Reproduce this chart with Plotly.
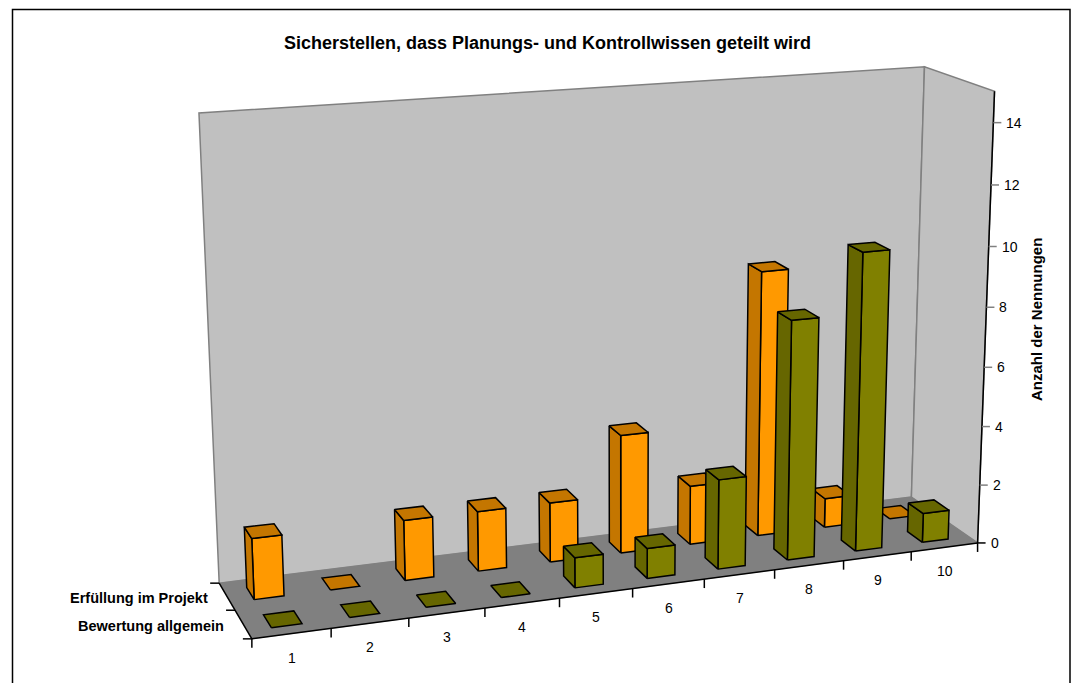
import numpy as np
import plotly.graph_objects as go

# Chart content
TITLE = "Sicherstellen, dass Planungs- und Kontrollwissen geteilt wird"
Y_TITLE = "Anzahl der Nennungen"
categories = ["1", "2", "3", "4", "5", "6", "7", "8", "9", "10"]
series_names = ["Bewertung allgemein", "Erfüllung im Projekt"]
bewertung = [0, 0, 0, 0, 1, 1, 3, 8, 10, 1]
erfuellung = [2, 0, 2, 2, 2, 4, 2, 9, 1, 0]
value_ticks = [0, 2, 4, 6, 8, 10, 12, 14]
VALUE_MAX = 15

# Colours: front face, side and top face
ORANGE = ("#FF9900", "#C47600")
OLIVE = ("#808000", "#666600")
WALL = "#C0C0C0"
FLOOR = "#808080"
EDGE = "#808080"
INK = "#000000"
FONT = "Liberation Sans, Arial, sans-serif"

N = len(categories)
ROWS = len(series_names)
BAR_W = 0.39
BAR_D = 0.45

# Perspective camera: box corners (category, row, value) and where they land on the page
box_corners = [
    ((0, 0, 0), (252, 639)),
    ((N, 0, 0), (977, 543)),
    ((0, ROWS, 0), (219, 583)),
    ((N, ROWS, 0), (912, 497)),
    ((0, ROWS, VALUE_MAX), (199, 113)),
    ((N, ROWS, VALUE_MAX), (924, 67)),
    ((N, 0, VALUE_MAX), (995, 91)),
]


def solve_camera(pairs):
    rows, rhs = [], []
    for (u, v, w), (x, y) in pairs:
        rows.append([u, v, w, 1, 0, 0, 0, 0, -x * u, -x * v, -x * w])
        rows.append([0, 0, 0, 0, u, v, w, 1, -y * u, -y * v, -y * w])
        rhs += [x, y]
    sol = np.linalg.lstsq(np.array(rows, float), np.array(rhs, float), rcond=None)[0]
    return np.append(sol, 1.0).reshape(3, 4)


CAM = solve_camera(box_corners)


def project(u, v, w):
    px, py, pw = CAM @ np.array([u, v, w, 1.0])
    return px / pw, py / pw


fig = go.Figure()


def poly(points, fill, line=INK, width=1.5):
    pts = [project(*p) for p in points]
    pts.append(pts[0])
    fig.add_trace(go.Scatter(
        x=[p[0] for p in pts], y=[p[1] for p in pts], mode="lines",
        fill="toself", fillcolor=fill, line=dict(color=line, width=width),
        hoverinfo="skip", showlegend=False))


def segment(a, b, color=INK, width=1.5):
    fig.add_trace(go.Scatter(
        x=[a[0], b[0]], y=[a[1], b[1]], mode="lines",
        line=dict(color=color, width=width), hoverinfo="skip", showlegend=False))


def shifted(p, dx=0, dy=0):
    return (p[0] + dx, p[1] + dy)


def label(p, text, size=14, bold=False, anchor="center", angle=0):
    fig.add_annotation(
        x=p[0], y=p[1], text=f"<b>{text}</b>" if bold else text, showarrow=False,
        xanchor=anchor, yanchor="middle", textangle=angle,
        font=dict(family=FONT, size=size, color=INK))


# Walls and floor
poly([(0, ROWS, 0), (N, ROWS, 0), (N, ROWS, VALUE_MAX), (0, ROWS, VALUE_MAX)], WALL, EDGE)
poly([(N, ROWS, 0), (N, 0, 0), (N, 0, VALUE_MAX), (N, ROWS, VALUE_MAX)], WALL, EDGE)
poly([(0, 0, 0), (N, 0, 0), (N, ROWS, 0), (0, ROWS, 0)], FLOOR, FLOOR, 0.5)


def bar(cat, row, value, colours):
    front, shade = colours
    u0 = cat + (1 - BAR_W) / 2
    u1 = u0 + BAR_W
    v0 = row + (1 - BAR_D) / 2
    v1 = v0 + BAR_D
    if value > 0:
        poly([(u0, v0, 0), (u1, v0, 0), (u1, v0, value), (u0, v0, value)], front)
        poly([(u0, v0, 0), (u0, v1, 0), (u0, v1, value), (u0, v0, value)], shade)
    poly([(u0, v0, value), (u1, v0, value), (u1, v1, value), (u0, v1, value)], shade)


# Back row first so the front row overlaps it
for row, values, colours in ((1, erfuellung, ORANGE), (0, bewertung, OLIVE)):
    for cat in range(N - 1, -1, -1):
        bar(cat, row, values[cat], colours)

# Axis lines
segment(project(0, 0, 0), project(N, 0, 0))
segment(project(0, 0, 0), project(0, ROWS, 0))
segment(project(N, 0, 0), project(N, 0, VALUE_MAX))

# Category ticks and labels
for i in range(N + 1):
    p = project(i, 0, 0)
    segment(p, shifted(p, dy=9))
for i, name in enumerate(categories):
    label(shifted(project(i + 0.5, 0, 0), dy=24), name)

# Series ticks and labels
for r in range(ROWS + 1):
    p = project(0, r, 0)
    segment(p, shifted(p, dx=-9))
for r, name in enumerate(series_names):
    label(shifted(project(0, r + 0.5, 0), dx=-17, dy=2), name, size=14.5, bold=True, anchor="right")

# Value ticks and labels
for t in value_ticks:
    p = project(N, 0, t)
    segment(p, shifted(p, dx=8), color=EDGE if t else INK)
    label(shifted(p, dx=11), str(t), anchor="left")

label((547, 43), TITLE, size=18, bold=True)
label((1036, 320), Y_TITLE, size=15, bold=True, angle=-90)

# Outer frame, its lower edge running past the page
fig.add_shape(type="rect", x0=12.5, y0=9.5, x1=1070, y1=720,
              line=dict(color=INK, width=1.5), layer="below")

fig.update_layout(
    width=1074, height=683, margin=dict(l=0, r=0, t=0, b=0),
    paper_bgcolor="white", plot_bgcolor="white", showlegend=False,
    xaxis=dict(range=[0, 1074], visible=False, fixedrange=True),
    yaxis=dict(range=[683, 0], visible=False, fixedrange=True),
)
fig.write_html("out.html", config=dict(displayModeBar=False))
